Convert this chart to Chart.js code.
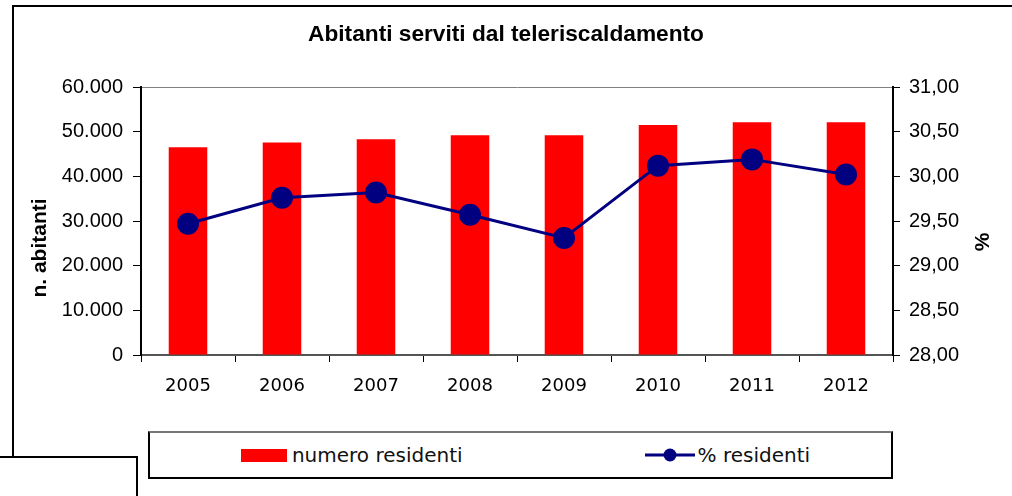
<!DOCTYPE html>
<html>
<head>
<meta charset="utf-8">
<title>Abitanti serviti dal teleriscaldamento</title>
<script src="https://cdn.jsdelivr.net/npm/chart.js@4.4.0/dist/chart.umd.min.js"></script>
<style>
  html, body { margin: 0; padding: 0; background: #fff; overflow: hidden; }
  #wrap { position: relative; width: 1012px; height: 496px; overflow: hidden; background: #fff; }
  #frame { position: absolute; left: 12px; top: 5px; width: 1100px; height: 600px; border: 2px solid #000; }
  #chartBox { position: absolute; left: 0; top: 0; width: 1012px; height: 496px; }
  #corner { position: absolute; left: -10px; top: 456px; width: 148px; height: 100px; box-sizing: border-box;
            border: 2px solid #000; background: #fff; }
  #legend { position: absolute; left: 148px; top: 431px; width: 745px; height: 48px; box-sizing: border-box;
            border: 2px solid #000; border-top-color: #777; background: #fff; padding-left: 10px;
            display: flex; align-items: center; justify-content: center; gap: 182px;
            font: 20px "DejaVu Sans", sans-serif; color: #111; }
  #legend .item { display: flex; align-items: center; }
  #legend .swatch { display: inline-block; width: 46px; height: 13px; margin-right: 5px; }
  #legend svg { margin-right: 3px; }
</style>
</head>
<body>
<div id="wrap">
  <div id="frame"></div>
  <div id="chartBox"><canvas id="abitantiChart"></canvas></div>
  <div id="legend"></div>
  <div id="corner"></div>
</div>
<script>
const anni = ["2005", "2006", "2007", "2008", "2009", "2010", "2011", "2012"];
const numeroResidenti = [46500, 47600, 48300, 49200, 49200, 51500, 52100, 52100];
const percResidenti = [29.47, 29.76, 29.82, 29.57, 29.31, 30.12, 30.19, 30.02];

const RED = "#ff0000";
const NAVY = "#000080";

function formatMigliaia(v) {
  return String(v).replace(/\B(?=(\d{3})+(?!\d))/g, ".");
}
function formatPerc(v) {
  return v.toFixed(2).replace(".", ",");
}

// rotated axis titles, placed from the chart area
const axisTitles = {
  id: "axisTitles",
  afterDraw(chart) {
    const { ctx, chartArea, scales } = chart;
    const midY = (chartArea.top + chartArea.bottom) / 2;
    const draw = (text, x, y) => {
      ctx.save();
      ctx.translate(x, y);
      ctx.rotate(-Math.PI / 2);
      ctx.fillText(text, 0, 0);
      ctx.restore();
    };
    ctx.save();
    ctx.fillStyle = "#000";
    ctx.font = 'bold 21px "Liberation Sans"';
    ctx.textAlign = "center";
    ctx.textBaseline = "middle";
    draw("n. abitanti", scales.y.left + 40, midY + 27);
    draw("%", scales.y1.right - 29, midY + 21);
    ctx.restore();
  },
};

const ctx = document.getElementById("abitantiChart").getContext("2d");
const chart = new Chart(ctx, {
  data: {
    labels: anni,
    datasets: [
      {
        type: "line",
        label: "% residenti",
        data: percResidenti,
        yAxisID: "y1",
        borderColor: NAVY,
        backgroundColor: NAVY,
        borderWidth: 3,
        pointRadius: 11,
        pointBackgroundColor: NAVY,
        pointBorderWidth: 0,
        tension: 0,
        order: 0,
      },
      {
        type: "bar",
        label: "numero residenti",
        data: numeroResidenti,
        yAxisID: "y",
        backgroundColor: RED,
        categoryPercentage: 1,
        barPercentage: 0.41,
        order: 1,
      },
    ],
  },
  options: {
    responsive: true,
    maintainAspectRatio: false,
    animation: false,
    layout: { padding: 0 },
    plugins: {
      legend: { display: false },
      tooltip: { enabled: false },
      title: {
        display: true,
        text: "Abitanti serviti dal teleriscaldamento",
        color: "#000",
        font: { family: "Liberation Sans", size: 22.7, weight: "bold" },
        padding: { top: 21.5, bottom: 38.3 },
      },
    },
    scales: {
      x: {
        offset: true,
        afterFit: (s) => { s.height = 141; },
        border: { color: "#555", width: 2 },
        grid: { drawOnChartArea: false, tickLength: 7, tickColor: "#000", offset: true },
        ticks: { color: "#000", padding: 14, font: { family: "DejaVu Sans", size: 18 } },
      },
      y: {
        position: "left",
        min: 0,
        max: 60000,
        afterFit: (s) => { s.width = 141; },
        border: { color: "#000", width: 2 },
        grid: {
          color: (c) => (c.tick && c.tick.value === 60000 ? "#808080" : "transparent"),
          tickColor: "#000",
          tickLength: 8,
        },
        ticks: {
          stepSize: 10000,
          padding: 10,
          color: "#000",
          font: { family: "Liberation Sans", size: 20 },
          callback: (v) => formatMigliaia(v),
        },
      },
      y1: {
        position: "right",
        min: 28,
        max: 31,
        afterFit: (s) => { s.width = 119; },
        border: { color: "#000", width: 2 },
        grid: { drawOnChartArea: false, tickColor: "#000", tickLength: 7 },
        ticks: {
          stepSize: 0.5,
          padding: 9,
          color: "#000",
          font: { family: "Liberation Sans", size: 20 },
          callback: (v) => formatPerc(v),
        },
      },
    },
  },
  plugins: [axisTitles],
});

// html legend built from the datasets, bars first
const legendEl = document.getElementById("legend");
chart.data.datasets
  .slice()
  .sort((a, b) => b.order - a.order)
  .forEach((ds) => {
    const item = document.createElement("div");
    item.className = "item";
    if (ds.type === "bar") {
      const sw = document.createElement("span");
      sw.className = "swatch";
      sw.style.background = ds.backgroundColor;
      item.appendChild(sw);
    } else {
      item.innerHTML =
        '<svg width="50" height="22"><line x1="0" y1="11" x2="50" y2="11" stroke="' + ds.borderColor +
        '" stroke-width="3"/><circle cx="25" cy="11" r="6.5" fill="' + ds.borderColor + '"/></svg>';
    }
    const txt = document.createElement("span");
    txt.textContent = ds.label;
    item.appendChild(txt);
    legendEl.appendChild(item);
  });
</script>
</body>
</html>
